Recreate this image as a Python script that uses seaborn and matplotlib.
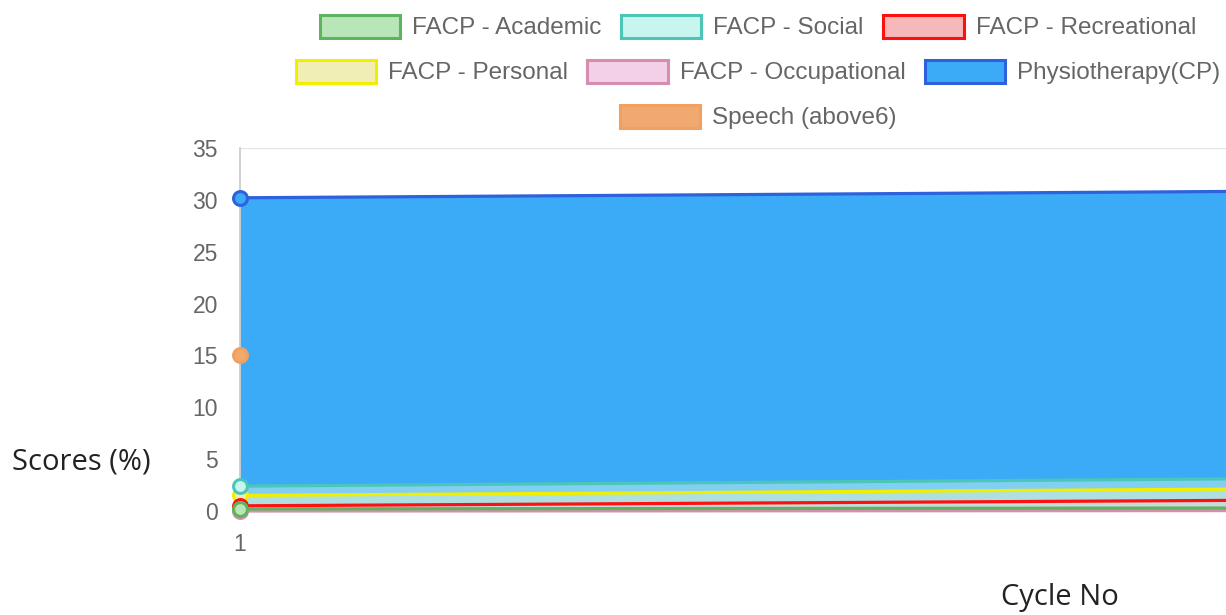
import numpy as np
import pandas as pd
import matplotlib
matplotlib.use("Agg")
import matplotlib.pyplot as plt
from matplotlib.patches import Patch
import seaborn as sns

# ---- data ----
cycles = [1, 2]
series_names = ["FACP - Academic", "FACP - Social", "FACP - Recreational",
                "FACP - Personal", "FACP - Occupational", "Physiotherapy(CP)",
                "Speech (above6)"]
academic = [0.2, 0.3]
social = [2.4, 3.2]
recreational = [0.5, 1.1]
personal = [1.5, 2.2]
occupational = [0.0, 0.05]
physio = [30.2, 30.9]
speech = [15.0, np.nan]
values = [academic, social, recreational, personal, occupational, physio, speech]

line_colors = ["#5fb35f", "#4cc6b6", "#ff1010", "#f2ee00", "#d68eae", "#2d62dc", "#f0a060"]
face_colors = ["#b8e6b8", "#c8f5ee", "#f6b8b8", "#f0eeb4", "#f3d0e8", "#3baaf7", "#f0aa70"]
fill_alpha = [0.5, 0.5, 0.5, 0.5, 0.5, 1.0, 0.5]

yticks = [0, 5, 10, 15, 20, 25, 30, 35]
xtick_labels = ["1"]

rows = []
for name, vals in zip(series_names, values):
    for c, v in zip(cycles, vals):
        rows.append({"cycle": c, "score": v, "series": name})
df = pd.DataFrame(rows)

sns.set_style("white")
plt.rcParams["font.family"] = ["Liberation Sans", "DejaVu Sans"]

W, H = 1226, 615
fig = plt.figure(figsize=(W / 100, H / 100), dpi=100)
# plot area continues past the right edge of the (cropped) picture
ax = fig.add_axes([240 / W, (H - 511) / H, (1376 - 240) / W, (511 - 148) / H])
ax.set_xlim(1, 2)
ax.set_ylim(0, 35)

order_fill = [5, 6, 4, 3, 2, 1, 0]
for i in order_fill:
    vals = np.array(values[i], dtype=float)
    ax.fill_between(cycles, 0, vals, color=face_colors[i], alpha=fill_alpha[i],
                    linewidth=0, zorder=1 + 0.01 * (7 - i))

for k, i in enumerate([6, 5, 4, 3, 2, 1, 0]):
    sub = df[df["series"] == series_names[i]]
    sns.lineplot(data=sub, x="cycle", y="score", ax=ax, color=line_colors[i],
                 linewidth=2.3, zorder=3 + k * 0.1, legend=False,
                 marker="o", markersize=10, markerfacecolor=face_colors[i],
                 markeredgecolor=line_colors[i], markeredgewidth=2.2, clip_on=False)

ax.set_xlabel("")
ax.set_ylabel("")
ax.set_yticks(yticks)
ax.set_yticklabels([str(t) for t in yticks])
ax.set_xticks([1])
ax.set_xticklabels(xtick_labels)
ax.tick_params(axis="y", length=9, width=1, color="#e2e2e2", pad=7,
               labelsize=16.5, labelcolor="#666666")
ax.tick_params(axis="x", length=12, width=1.2, color="#c8c8c8", pad=4,
               labelsize=16.5, labelcolor="#666666")
ax.yaxis.grid(True, color="#e6e6e6", linewidth=1)
ax.xaxis.grid(False)
for s in ["top", "right"]:
    ax.spines[s].set_visible(False)
ax.spines["left"].set_color("#c8c8c8")
ax.spines["left"].set_linewidth(1.2)
ax.spines["bottom"].set_color("#e0e0e0")
ax.spines["bottom"].set_linewidth(1)

legend_rows = [[0, 1, 2], [3, 4, 5], [6]]
row_y = [27, 72, 117]
for idxs, yy in zip(legend_rows, row_y):
    handles = [Patch(facecolor=face_colors[i], edgecolor=line_colors[i], linewidth=2.2,
                     label=series_names[i]) for i in idxs]
    leg = fig.legend(handles=handles, loc="center", bbox_to_anchor=(758 / W, 1 - yy / H),
                     ncol=len(idxs), frameon=False, fontsize=17.5, handlelength=3.3,
                     handleheight=1.1, handletextpad=0.5, columnspacing=0.8,
                     borderpad=0, borderaxespad=0)
    for t in leg.get_texts():
        t.set_color("#666666")

fig.text(12 / W, 1 - 462 / H, "Scores (%)", ha="left", va="center",
         fontsize=21, color="#222222", family=["Open Sans", "DejaVu Sans"])
fig.text(1060 / W, 1 - 597 / H, "Cycle No", ha="center", va="center",
         fontsize=21, color="#222222", family=["Open Sans", "DejaVu Sans"])

fig.savefig("out.png", dpi=100)
